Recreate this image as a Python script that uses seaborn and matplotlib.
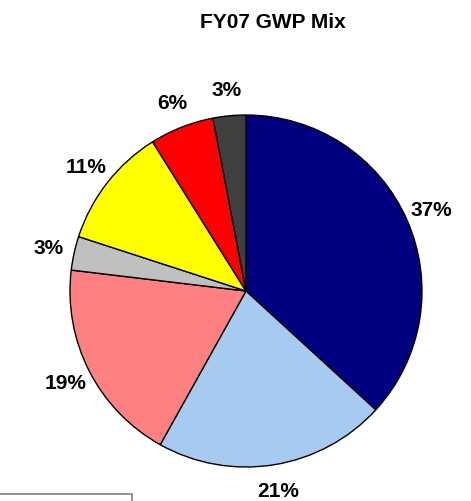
import seaborn as sns
import matplotlib.pyplot as plt
from matplotlib.patches import Rectangle

# slice shares, clockwise from 12 o'clock
shares = [36.8, 21.3, 18.8, 3.1, 11.1, 5.9, 3.0]
colors = ['#000080', '#A6CAF0', '#FF8080', '#C0C0C0', '#FFFF00', '#FF0000', '#404040']
title = 'FY07 GWP Mix'

sns.set_theme(style='white')
plt.rcParams['font.family'] = ['Liberation Sans', 'DejaVu Sans']

fig = plt.figure(figsize=(4.71, 5.02), dpi=100)
ax = fig.add_axes([0.1486, 0.0677, 0.7473, 0.7012])

wedges, texts, autotexts = ax.pie(
    shares,
    colors=colors,
    startangle=90,
    counterclock=False,
    autopct='%1.0f%%',
    pctdistance=1.15,
    wedgeprops=dict(edgecolor='black', linewidth=1),
    textprops=dict(fontsize=15, fontweight='bold', color='black'),
)
ax.set_xlim(-1, 1)
ax.set_ylim(-1, 1)
ax.set_aspect('equal')
for t in autotexts:
    t.set_clip_on(False)

fig.text(0.58, 1 - 22 / 502, title, ha='center', va='center',
         fontsize=15, fontweight='bold', color='black')

# partly visible legend frame at the bottom left
fig.patches.append(Rectangle((-0.01, -0.05), 0.29, 0.064, transform=fig.transFigure,
                             facecolor='white', edgecolor='#808080', linewidth=1.2))

fig.savefig('out.png', dpi=100)
plt.close(fig)
